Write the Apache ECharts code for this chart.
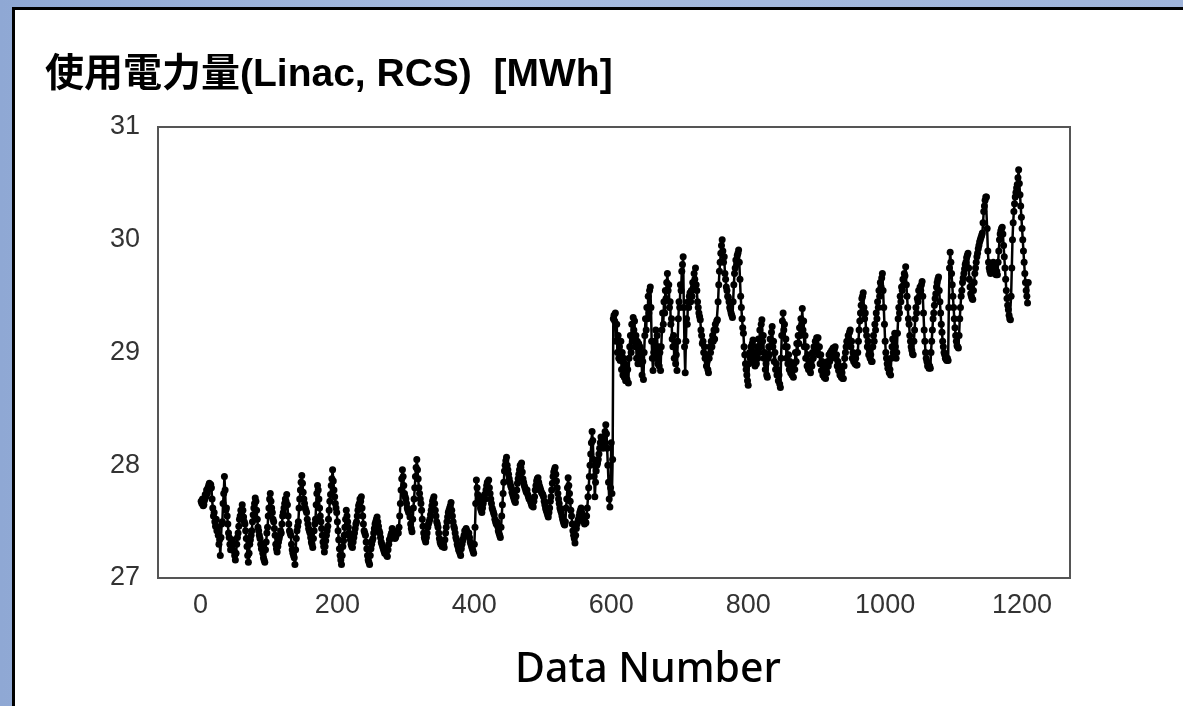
<!DOCTYPE html>
<html>
<head>
<meta charset="utf-8">
<script src="https://cdn.jsdelivr.net/npm/echarts@6/dist/echarts.min.js"></script>
<style>
html,body{margin:0;padding:0;width:1183px;height:706px;overflow:hidden;background:linear-gradient(90deg,#8fa8d4,#a6bbdf 40%,#9fb4da);}
#panel{position:absolute;left:12px;top:7px;width:1200px;height:720px;background:#fff;border-left:3px solid #000;border-top:3px solid #000;}
#chart{position:absolute;left:0;top:0;width:1183px;height:706px;}
</style>
</head>
<body>
<div id="panel"></div>
<div id="chart"></div>
<script>
const titleText = '使用電力量(Linac, RCS)  [MWh]';
const xAxisTitle = 'Data Number';
const xTickValues = [0, 200, 400, 600, 800, 1000, 1200];
const yTickValues = [27, 28, 29, 30, 31];

// Power usage per data number, n = 1 .. 602 (before the step)
const powerBefore = [
27.68,27.66,27.70,27.64,27.65,27.69,27.74,27.72,27.78,27.75,27.80,27.82,27.84,27.79,27.83,27.80,27.70,27.62,27.55,27.58,
27.50,27.46,27.52,27.42,27.45,27.38,27.30,27.34,27.20,27.36,27.48,27.50,27.66,27.75,27.90,27.78,27.60,27.62,27.55,27.48,
27.40,27.36,27.30,27.25,27.28,27.34,27.32,27.30,27.24,27.20,27.16,27.22,27.30,27.36,27.40,27.46,27.52,27.55,27.60,27.58,
27.65,27.60,27.54,27.50,27.48,27.42,27.35,27.28,27.20,27.14,27.22,27.30,27.34,27.38,27.42,27.50,27.56,27.62,27.66,27.71,
27.68,27.60,27.52,27.45,27.42,27.38,27.35,27.30,27.26,27.30,27.22,27.18,27.16,27.14,27.25,27.32,27.40,27.45,27.55,27.62,
27.70,27.75,27.68,27.62,27.58,27.52,27.50,27.44,27.38,27.30,27.26,27.23,27.28,27.32,27.35,27.38,27.42,27.40,27.48,27.55,
27.58,27.62,27.66,27.70,27.68,27.74,27.65,27.55,27.48,27.42,27.40,27.38,27.30,27.25,27.22,27.20,27.18,27.12,27.25,27.35,
27.42,27.46,27.50,27.62,27.70,27.78,27.85,27.91,27.84,27.76,27.70,27.66,27.62,27.60,27.58,27.52,27.48,27.44,27.42,27.40,
27.36,27.32,27.30,27.27,27.35,27.42,27.48,27.52,27.65,27.75,27.82,27.78,27.70,27.62,27.55,27.50,27.44,27.38,27.32,27.28,
27.23,27.28,27.33,27.38,27.42,27.46,27.52,27.60,27.68,27.74,27.82,27.88,27.96,27.86,27.78,27.72,27.66,27.62,27.58,27.50,
27.42,27.34,27.26,27.20,27.16,27.12,27.20,27.28,27.33,27.38,27.45,27.52,27.60,27.55,27.50,27.45,27.40,27.38,27.34,27.30,
27.28,27.27,27.32,27.36,27.40,27.44,27.48,27.50,27.55,27.60,27.64,27.66,27.70,27.68,27.72,27.62,27.55,27.48,27.42,27.40,
27.38,27.32,27.26,27.20,27.16,27.14,27.12,27.20,27.26,27.30,27.33,27.35,27.40,27.44,27.48,27.50,27.52,27.54,27.50,27.46,
27.42,27.40,27.36,27.32,27.30,27.28,27.26,27.24,27.22,27.26,27.22,27.20,27.19,27.25,27.30,27.34,27.35,27.38,27.40,27.44,
27.40,27.38,27.36,27.35,27.36,27.38,27.40,27.42,27.40,27.45,27.55,27.66,27.78,27.88,27.96,27.90,27.82,27.75,27.72,27.70,
27.66,27.62,27.60,27.58,27.60,27.54,27.48,27.44,27.41,27.52,27.62,27.70,27.80,27.90,27.98,28.05,27.96,27.88,27.80,27.75,
27.70,27.66,27.60,27.52,27.46,27.40,27.36,27.34,27.32,27.36,27.40,27.45,27.48,27.50,27.52,27.56,27.60,27.64,27.68,27.70,
27.72,27.66,27.60,27.55,27.50,27.48,27.45,27.40,27.35,27.32,27.30,27.30,27.28,27.32,27.30,27.27,27.34,27.40,27.45,27.50,
27.54,27.58,27.60,27.62,27.64,27.67,27.60,27.55,27.50,27.46,27.44,27.40,27.36,27.34,27.30,27.28,27.25,27.24,27.22,27.20,
27.26,27.30,27.33,27.35,27.38,27.42,27.40,27.44,27.42,27.40,27.38,27.40,27.36,27.32,27.30,27.28,27.26,27.24,27.22,27.30,
27.45,27.66,27.87,27.80,27.74,27.70,27.68,27.72,27.62,27.60,27.58,27.62,27.66,27.70,27.74,27.70,27.78,27.82,27.85,27.80,
27.87,27.80,27.75,27.70,27.66,27.62,27.60,27.58,27.56,27.52,27.50,27.48,27.50,27.46,27.42,27.40,27.38,27.36,27.45,27.55,
27.65,27.75,27.85,27.95,28.00,28.04,28.07,28.00,27.96,27.92,27.88,27.85,27.82,27.80,27.76,27.74,27.72,27.70,27.68,27.67,
27.72,27.78,27.84,27.88,27.92,27.96,28.00,27.98,28.02,27.94,27.88,27.85,27.82,27.80,27.78,27.76,27.78,27.74,27.72,27.70,
27.70,27.68,27.66,27.64,27.65,27.63,27.68,27.72,27.78,27.82,27.86,27.88,27.89,27.85,27.82,27.80,27.78,27.76,27.75,27.74,
27.72,27.68,27.65,27.62,27.60,27.58,27.56,27.54,27.58,27.62,27.68,27.72,27.78,27.84,27.90,27.94,27.96,27.98,27.92,27.86,
27.80,27.75,27.70,27.66,27.62,27.60,27.58,27.55,27.52,27.50,27.48,27.47,27.50,27.62,27.70,27.80,27.89,27.82,27.75,27.68,
27.60,27.55,27.48,27.42,27.38,27.35,27.31,27.38,27.44,27.48,27.50,27.52,27.55,27.58,27.60,27.62,27.58,27.55,27.52,27.50,
27.48,27.50,27.49,27.55,27.62,27.72,27.80,27.90,28.00,28.10,28.20,28.30,28.22,28.05,27.90,27.72,27.85,27.95,28.00,28.02,
28.05,28.10,28.15,28.20,28.25,28.22,28.18,28.15,28.20,28.25,28.30,28.36,28.28,28.15,28.00,27.85,27.70,27.63,27.80,28.20,
27.75,28.05
];
// Power usage per data number, n = 603 .. 1209 (after the step)
const powerAfter = [
29.30,29.33,29.28,29.35,29.10,29.25,29.00,29.15,28.95,29.05,28.93,29.10,28.85,29.00,28.80,28.95,28.78,28.90,28.75,28.88,
28.76,28.85,28.73,28.95,29.05,29.15,29.00,29.25,29.10,29.31,29.20,29.28,29.05,29.15,28.95,29.10,28.90,29.08,28.95,29.05,
28.90,29.00,28.80,28.92,28.76,29.00,29.15,29.30,29.20,29.40,29.30,29.50,29.35,29.55,29.58,29.40,29.10,28.95,28.84,29.00,
29.10,28.95,29.20,29.00,29.15,28.90,29.05,28.88,29.00,28.84,29.05,29.20,29.35,29.25,29.45,29.35,29.55,29.48,29.62,29.70,
29.55,29.60,29.40,29.45,29.25,29.30,29.12,29.05,29.15,28.95,29.05,28.90,28.98,28.84,29.10,29.30,29.45,29.40,29.60,29.55,
29.72,29.78,29.85,29.40,29.05,28.82,29.10,29.30,29.25,29.45,29.40,29.50,29.53,29.45,29.55,29.50,29.62,29.58,29.70,29.65,
29.75,29.60,29.55,29.45,29.40,29.35,29.32,29.29,29.20,29.15,29.08,29.10,29.00,29.05,28.95,28.98,28.88,28.92,28.85,28.82,
28.95,29.05,29.00,29.10,29.05,29.15,29.10,29.20,29.12,29.25,29.20,29.28,29.29,29.45,29.60,29.72,29.80,29.88,29.95,30.00,
29.90,29.80,29.85,29.70,29.65,29.58,29.55,29.50,29.49,29.45,29.40,29.38,29.35,29.33,29.31,29.45,29.60,29.70,29.75,29.82,
29.78,29.86,29.88,29.91,29.80,29.65,29.50,29.40,29.30,29.22,29.17,29.05,28.98,28.90,28.85,28.80,28.75,28.71,28.90,29.00,
28.95,29.05,28.95,29.08,29.11,28.92,29.00,28.88,28.98,28.90,29.05,28.95,29.12,29.00,29.20,29.05,29.25,29.29,29.10,29.15,
28.95,29.00,28.85,28.90,28.80,28.78,28.95,29.05,28.98,29.12,29.05,29.18,29.23,29.05,29.10,28.92,29.00,28.85,28.90,28.80,
28.85,28.75,28.80,28.72,28.69,28.95,29.15,29.28,29.35,29.20,29.25,29.05,29.12,28.95,29.05,28.90,28.98,28.85,28.92,28.82,
28.88,28.80,28.85,28.78,28.90,28.85,29.00,28.92,29.08,29.00,29.15,29.08,29.22,29.15,29.30,29.25,29.39,29.20,29.28,29.05,
29.15,28.95,29.05,28.88,28.98,28.85,28.92,28.84,28.82,28.92,28.88,29.00,28.95,29.05,29.00,29.10,29.02,29.13,29.05,29.13,
28.98,29.05,28.90,28.98,28.84,28.92,28.80,28.88,28.78,28.85,28.77,28.85,28.82,28.92,28.88,28.98,28.92,29.00,28.95,29.02,
28.96,29.04,28.98,29.03,29.05,28.95,28.98,28.88,28.92,28.84,28.88,28.80,28.85,28.78,28.82,28.77,28.77,28.88,28.95,29.00,
29.05,29.10,29.08,29.15,29.12,29.18,29.20,29.05,29.10,28.95,29.00,28.92,28.98,28.90,28.95,28.89,28.89,29.00,29.10,29.20,
29.28,29.35,29.42,29.48,29.50,29.53,29.40,29.30,29.35,29.20,29.15,29.05,29.10,28.98,29.02,28.95,28.98,28.92,28.92,29.05,
29.15,29.10,29.25,29.20,29.35,29.30,29.45,29.40,29.55,29.50,29.62,29.58,29.66,29.70,29.55,29.40,29.25,29.10,29.00,28.95,
28.90,28.86,28.90,28.82,28.85,28.80,28.95,29.05,29.12,29.00,29.10,29.17,29.05,28.95,29.00,29.17,29.30,29.40,29.35,29.50,
29.45,29.58,29.55,29.65,29.60,29.70,29.68,29.76,29.60,29.50,29.40,29.30,29.25,29.15,29.10,29.05,29.02,28.99,28.98,29.10,
29.20,29.30,29.40,29.35,29.48,29.45,29.55,29.50,29.58,29.55,29.60,29.63,29.50,29.35,29.20,29.10,29.00,28.95,28.92,28.88,
28.90,28.86,28.88,28.86,29.00,29.10,29.20,29.30,29.35,29.42,29.48,29.52,29.58,29.62,29.65,29.67,29.55,29.45,29.35,29.25,
29.18,29.10,29.05,29.00,28.98,28.95,28.94,28.93,28.95,28.93,29.40,29.75,29.89,29.80,29.70,29.60,29.50,29.40,29.30,29.22,
29.15,29.10,29.06,29.05,29.04,29.15,29.30,29.40,29.50,29.55,29.62,29.66,29.70,29.74,29.78,29.80,29.84,29.86,29.88,29.75,
29.65,29.58,29.52,29.50,29.48,29.47,29.55,29.62,29.70,29.75,29.80,29.85,29.88,29.92,29.95,29.98,30.00,30.02,30.04,30.06,
30.15,30.25,30.30,30.35,30.38,30.38,30.10,29.90,29.80,29.75,29.72,29.70,29.72,29.75,29.78,29.80,29.76,29.72,29.70,29.69,
29.72,29.69,29.80,29.90,30.00,30.05,30.08,30.10,30.11,30.05,29.95,29.85,29.75,29.65,29.55,29.48,29.42,29.38,29.33,29.30,
29.29,29.50,29.75,30.00,30.15,30.25,30.32,30.38,30.42,30.46,30.49,30.55,30.62,30.50,30.40,30.30,30.20,30.10,30.00,29.90,
29.80,29.70,29.62,29.55,29.50,29.44,29.62
];

const allValues = powerBefore.concat(powerAfter);
const seriesData = allValues.map((v, i) => [i + 1, v]);

const chart = echarts.init(document.getElementById('chart'), null, {renderer: 'canvas'});
chart.setOption({
  backgroundColor: 'transparent',
  animation: false,
  title: {
    text: titleText,
    left: 40,
    top: 51,
    textStyle: {
      fontFamily: '"Liberation Sans", "Noto Sans CJK JP", sans-serif',
      fontSize: 39,
      fontWeight: 'bold',
      color: '#000'
    }
  },
  graphic: [{
    type: 'text',
    left: 515,
    top: 650,
    silent: true,
    style: {
      text: xAxisTitle,
      fill: '#000',
      font: '500 41px "Noto Sans", sans-serif'
    }
  }],
  grid: {
    left: 158, top: 127, right: 113, bottom: 128,
    show: true, borderColor: '#555', borderWidth: 2, backgroundColor: '#fff'
  },
  xAxis: {
    type: 'value',
    min: -62,
    max: 1270,
    axisLine: {show: true, onZero: false, lineStyle: {color: '#555', width: 2}},
    axisTick: {show: false},
    splitLine: {show: false},
    axisLabel: {
      customValues: xTickValues,
      formatter: v => String(v),
      margin: 14,
      fontFamily: '"Liberation Sans", Arial, sans-serif',
      fontSize: 27,
      color: '#333'
    }
  },
  yAxis: {
    type: 'value',
    min: yTickValues[0],
    max: yTickValues[yTickValues.length - 1],
    interval: 1,
    axisLine: {show: true, onZero: false, lineStyle: {color: '#555', width: 2}},
    axisTick: {show: false},
    splitLine: {show: false},
    axisLabel: {
      margin: 18,
      fontFamily: '"Liberation Sans", Arial, sans-serif',
      fontSize: 27,
      color: '#333'
    }
  },
  series: [{
    type: 'line',
    data: seriesData,
    showSymbol: true,
    showAllSymbol: true,
    symbol: 'circle',
    symbolSize: 7,
    itemStyle: {color: '#000'},
    lineStyle: {color: '#000', width: 2.5},
    emphasis: {disabled: true}
  }]
});
</script>
</body>
</html>
